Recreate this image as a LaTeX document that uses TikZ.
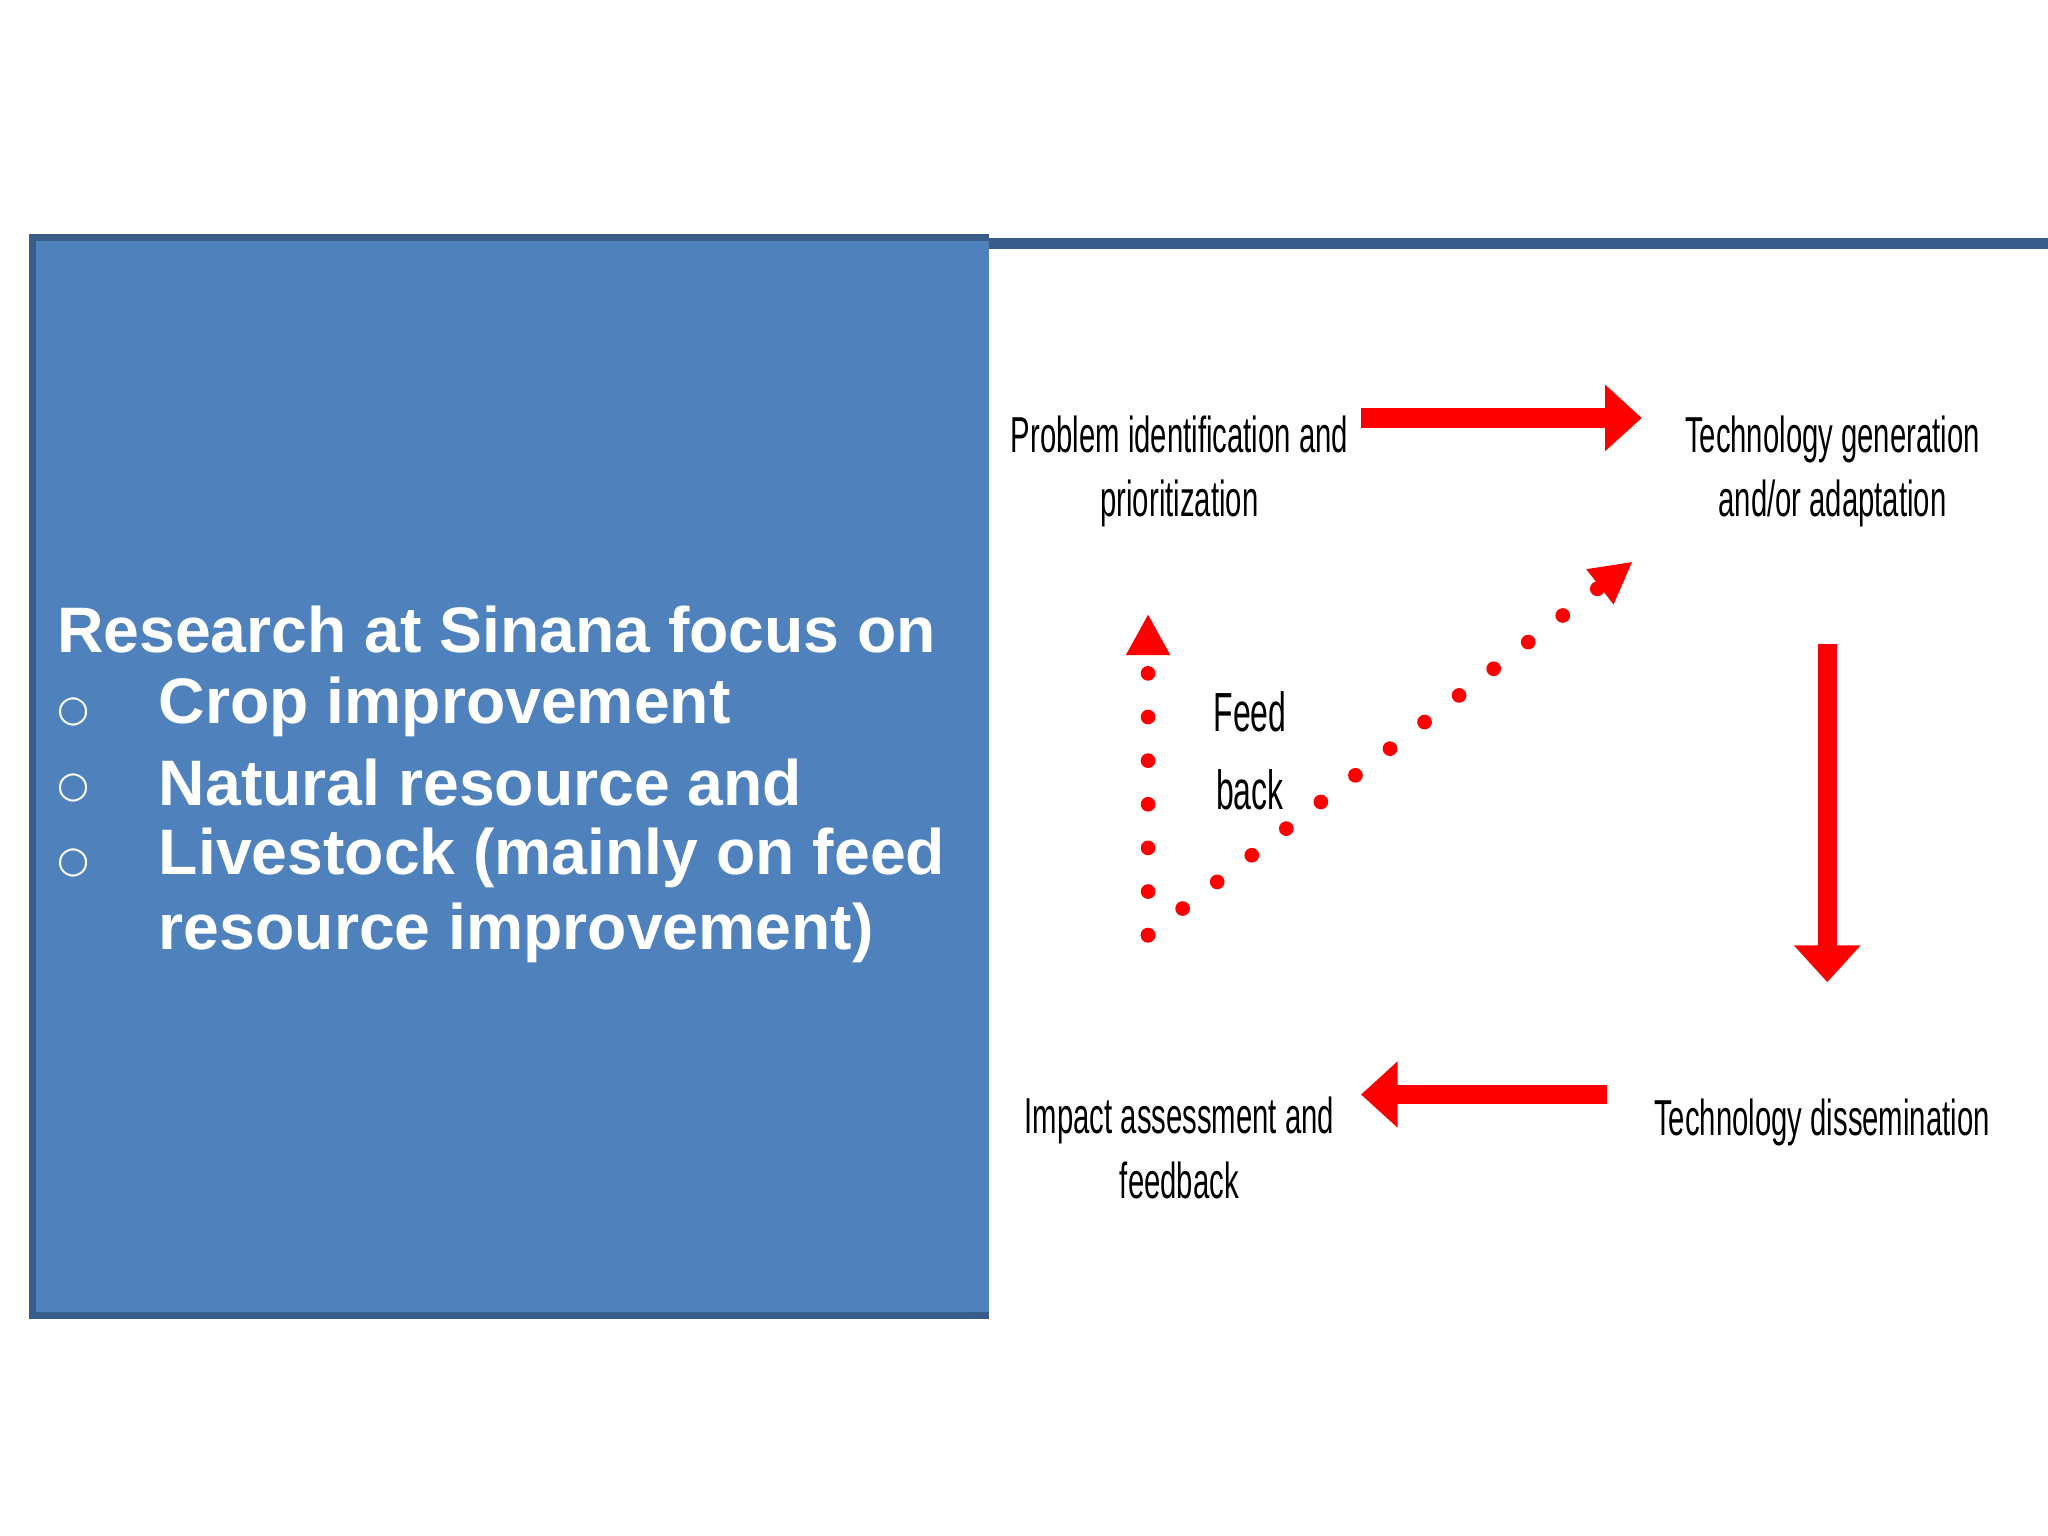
\documentclass[tikz,border=0pt]{standalone}
\usepackage{fontspec}
\setmainfont{Liberation Sans}
\newfontfamily\condf[FakeStretch=0.58]{Liberation Sans}
\newfontfamily\symf{DejaVu Sans}
\usetikzlibrary{arrows.meta}
\definecolor{boxblue}{RGB}{79,129,189}
\definecolor{boxedge}{RGB}{56,93,138}
\begin{document}
\begin{tikzpicture}[x=0.01cm,y=-0.01cm,
  lbl/.style={font=\condf\fontsize{11}{14}\selectfont,align=center},
  bigarrow/.style={red,line width=4.2pt,-{Triangle[width=14pt,length=8pt]}},
  dotarrow/.style={red,line width=3.2pt,line cap=round,dash pattern=on 0pt off 9.5pt,-{Triangle[width=9pt,length=9pt]}}]
\useasboundingbox (0,0) rectangle (1568,1176);
\fill[white] (0,0) rectangle (1568,1176);
\node[draw=boxedge,line width=1.5pt,fill=boxblue,minimum width=732\pgflinewidth,inner sep=0pt,anchor=north west] (box) at (25,182) {};
\fill[boxblue] (25,182) rectangle (757,1007);
\draw[boxedge,line width=1.5pt] (757,182) -- (25,182) -- (25,1007) -- (757,1007);
\node[anchor=west,text=white,font=\bfseries\fontsize{14}{16}\selectfont,inner sep=0pt] (t0) at (43,482) {Research at Sinana focus on};
\foreach \y/\t [count=\i] in {541/Crop improvement,599/Natural resource and,657/Livestock (mainly on feed}{
  \node[text=white,font=\symf\fontsize{8}{10}\selectfont] (b\i) at (56,\y+4) {○};
  \node[anchor=west,text=white,font=\bfseries\fontsize{14}{16}\selectfont,inner sep=0pt] (l\i) at (121,\y) {\t};
}
\node[anchor=west,text=white,font=\bfseries\fontsize{14}{16}\selectfont,inner sep=0pt] (l4) at (121,714) {resource improvement)};
\node[lbl] (p) at (903,361) {Problem identification and\\prioritization};
\node[lbl] (g) at (1403,361) {Technology generation\\and/or adaptation};
\node[lbl] (d) at (1395,859) {Technology dissemination};
\node[lbl] (i) at (903,879) {Impact assessment and\\feedback};
\node[lbl,font=\condf\fontsize{12}{17}\selectfont] (fb) at (957,575) {Feed\\back};
\coordinate (a1s) at (1042,320); \coordinate (a1e) at (1257,320);
\coordinate (a2s) at (1399,493); \coordinate (a2e) at (1399,752);
\coordinate (a3s) at (1230,838); \coordinate (a3e) at (1042,838);
\draw[bigarrow] (a1s) -- (a1e);
\draw[bigarrow] (a2s) -- (a2e);
\draw[bigarrow] (a3s) -- (a3e);
\coordinate (c) at (879,716);
\coordinate (up) at (879,470);
\coordinate (dg) at (1250,430);
\draw[dotarrow] (c) -- (up);
\draw[dotarrow] (c) -- (dg);
\end{tikzpicture}
\end{document}
